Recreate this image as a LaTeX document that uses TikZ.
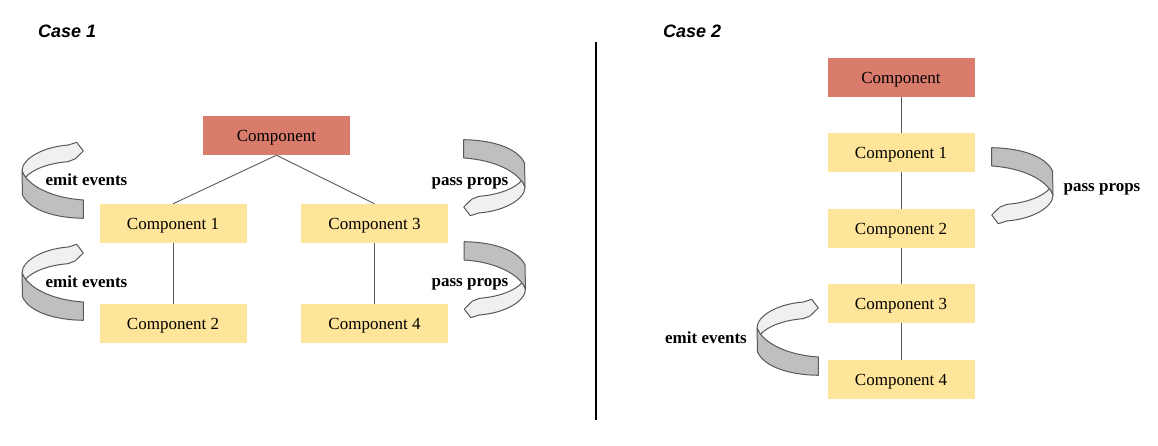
\documentclass[tikz,border=0pt]{standalone}
\usepackage{fontspec}
\setmainfont{Liberation Serif}
\newfontfamily\casefont{Liberation Sans}
\definecolor{parentred}{HTML}{D97C6C}
\definecolor{childyellow}{HTML}{FFE599}
\definecolor{ribdark}{HTML}{BFBFBF}
\definecolor{riblight}{HTML}{F0F0F0}
\definecolor{edgegray}{HTML}{595959}
\tikzset{
  parentbox/.style={fill=parentred, minimum width=147pt, minimum height=39pt, inner sep=0pt, text height=15pt, text depth=3pt, font=\fontsize{17}{20}\selectfont},
  childbox/.style={fill=childyellow, minimum width=147pt, minimum height=39pt, inner sep=0pt, text height=15pt, text depth=3pt, font=\fontsize{17}{20}\selectfont},
  conn/.style={draw=edgegray, line width=0.9pt},
  lbl/.style={font=\fontsize{17}{20}\selectfont\bfseries, inner sep=0pt, anchor=base},
  casetitle/.style={font=\casefont\fontsize{18}{22}\selectfont\bfseries\itshape, inner sep=0pt, anchor=west},
  ribbon/.pic={
    \filldraw[fill=riblight, draw=edgegray, line width=1pt, line join=round]
      (46.3,4) -- (54.7,1.3) -- (61.3,10) -- (53,18) -- (46,20.7)
      .. controls (28,22) and (10,28) .. (3,37) -- (0,30)
      .. controls (0,18) and (20,6) .. (46.3,4) -- cycle;
    \filldraw[fill=ribdark, draw=edgegray, line width=1pt, line join=round]
      (0,30) .. controls (6,45) and (30,57) .. (61.3,59) -- (61.3,77.3)
      .. controls (35,77) and (8,70) .. (0.5,54) -- cycle;
  }
}
\begin{document}
\begin{tikzpicture}[x=1pt,y=-1pt]
\useasboundingbox (0,0) rectangle (1158,446);
% titles
\node[casetitle] (t1) at (38,31) {Case 1};
\node[casetitle] (t2) at (663,31) {Case 2};
% divider
\coordinate (dtop) at (596,42);
\coordinate (dbot) at (596,420);
\draw[line width=1.3pt] (dtop) -- (dbot);
% Case 1 boxes
\node[parentbox] (a0) at (276.5,135.5) {Component};
\node[childbox] (a1) at (173,223.5) {Component 1};
\node[childbox] (a3) at (374.5,223.5) {Component 3};
\node[childbox] (a2) at (173,323.5) {Component 2};
\node[childbox] (a4) at (374.5,323.5) {Component 4};
\draw[conn] (a0.south) -- (a1.north);
\draw[conn] (a0.south) -- (a3.north);
\draw[conn] (a1.south) -- (a2.north);
\draw[conn] (a3.south) -- (a4.north);
% Case 2 boxes
\node[parentbox] (b0) at (901,77.5) {Component};
\node[childbox] (b1) at (901,152.5) {Component 1};
\node[childbox] (b2) at (901,228.5) {Component 2};
\node[childbox] (b3) at (901,303.5) {Component 3};
\node[childbox] (b4) at (901,379.5) {Component 4};
\draw[conn] (b0.south) -- (b1.north);
\draw[conn] (b1.south) -- (b2.north);
\draw[conn] (b2.south) -- (b3.north);
\draw[conn] (b3.south) -- (b4.north);
% ribbons
\pic at (22,141) {ribbon};
\pic at (22,243) {ribbon};
\pic[rotate=180] at (525,217) {ribbon};
\pic[rotate=180] at (525.5,319) {ribbon};
\pic at (757,298) {ribbon};
\pic[rotate=180] at (1053,225) {ribbon};
% labels
\node[lbl] (e1) at (86.5,185.6) {emit events};
\node[lbl] (e2) at (86.5,287.6) {emit events};
\node[lbl] (p1) at (470,185.6) {pass props};
\node[lbl] (p2) at (470,286.6) {pass props};
\node[lbl] (p3) at (1102,191.6) {pass props};
\node[lbl] (e3) at (706,343.6) {emit events};
\end{tikzpicture}
\end{document}
